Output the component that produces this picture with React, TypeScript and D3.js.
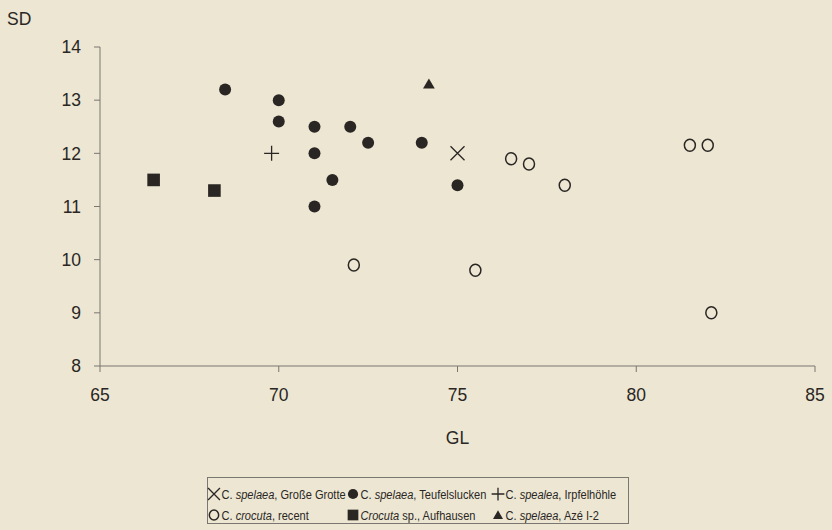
import React from "react";
import * as d3 from "d3";

type Pt = { gl: number; sd: number };

// GL / SD measurements per sample group
const grosseGrotte: Pt[] = [{ gl: 75.0, sd: 12.0 }];
const teufelslucken: Pt[] = [
  { gl: 68.5, sd: 13.2 },
  { gl: 70.0, sd: 13.0 },
  { gl: 70.0, sd: 12.6 },
  { gl: 71.0, sd: 12.5 },
  { gl: 72.0, sd: 12.5 },
  { gl: 72.5, sd: 12.2 },
  { gl: 74.0, sd: 12.2 },
  { gl: 71.0, sd: 12.0 },
  { gl: 71.5, sd: 11.5 },
  { gl: 71.0, sd: 11.0 },
  { gl: 75.0, sd: 11.4 },
];
const irpfelhoehle: Pt[] = [{ gl: 69.8, sd: 12.0 }];
const crocutaRecent: Pt[] = [
  { gl: 72.1, sd: 9.9 },
  { gl: 75.5, sd: 9.8 },
  { gl: 76.5, sd: 11.9 },
  { gl: 77.0, sd: 11.8 },
  { gl: 78.0, sd: 11.4 },
  { gl: 81.5, sd: 12.15 },
  { gl: 82.0, sd: 12.15 },
  { gl: 82.1, sd: 9.0 },
];
const aufhausen: Pt[] = [
  { gl: 66.5, sd: 11.5 },
  { gl: 68.2, sd: 11.3 },
];
const azeI2: Pt[] = [{ gl: 74.2, sd: 13.3 }];

const xTicks = [65, 70, 75, 80, 85];
const yTicks = [8, 9, 10, 11, 12, 13, 14];

const W = 832;
const H = 530;
const BG = "#ece6d3";
const INK = "#2a2623";
const AXIS = "#7a7670";
const FONT = "Arial, 'Liberation Sans', sans-serif";

const x = d3.scaleLinear().domain([65, 85]).range([100, 815]);
const y = d3.scaleLinear().domain([8, 14]).range([366, 47]);

// marker drawers, centred on 0,0 (s = scale)
const marker = (kind: string, s = 1) => {
  switch (kind) {
    case "x":
      return <path d={`M${-7 * s},${-7 * s}L${7 * s},${7 * s}M${-7 * s},${7 * s}L${7 * s},${-7 * s}`} stroke={INK} strokeWidth={1.3} fill="none" />;
    case "dot":
      return <circle r={6 * s} fill={INK} />;
    case "plus":
      return <path d={`M${-7.5 * s},0H${7.5 * s}M0,${-7.5 * s}V${7.5 * s}`} stroke={INK} strokeWidth={1.3} fill="none" />;
    case "ring":
      return <ellipse rx={5.5 * s} ry={6 * s} fill="none" stroke={INK} strokeWidth={1.5} />;
    case "square":
      return <rect x={-6.3 * s} y={-6.3 * s} width={12.6 * s} height={12.6 * s} fill={INK} />;
    case "tri":
      return <path d={d3.symbol(d3.symbolTriangle, 60 * s * s)() || ""} fill={INK} transform="translate(0,1)" />;
  }
  return null;
};

const series = [
  { kind: "x", data: grosseGrotte },
  { kind: "dot", data: teufelslucken },
  { kind: "plus", data: irpfelhoehle },
  { kind: "ring", data: crocutaRecent },
  { kind: "square", data: aufhausen },
  { kind: "tri", data: azeI2 },
];

// legend entries: text pieces, true = italic
const legendItems: { kind: string; parts: [string, boolean][] }[] = [
  { kind: "x", parts: [["C. ", false], ["spelaea", true], [", Große Grotte", false]] },
  { kind: "dot", parts: [["C. ", false], ["spelaea", true], [", Teufelslucken", false]] },
  { kind: "plus", parts: [["C. ", false], ["spealea", true], [", Irpfelhöhle", false]] },
  { kind: "ring", parts: [["C. ", false], ["crocuta", true], [", recent", false]] },
  { kind: "square", parts: [["Crocuta", true], [" sp., Aufhausen", false]] },
  { kind: "tri", parts: [["C. ", false], ["spelaea", true], [", Azé I-2", false]] },
];
const legendCols = [214, 353, 498];
const legendRows = [494, 515];

export default function App() {
  const [x0, x1] = x.range();
  const [y0, y1] = y.range();
  return (
    <svg
      width={W}
      height={H}
      style={{ position: "absolute", left: 0, top: 0, background: BG }}
      fontFamily={FONT}
    >
      <rect width={W} height={H} fill={BG} />

      {/* axes */}
      <line x1={x0} x2={x0} y1={y1} y2={y0} stroke={AXIS} strokeWidth={1} />
      <line x1={x0} x2={x1} y1={y0} y2={y0} stroke={AXIS} strokeWidth={1} />
      {yTicks.map((t) => (
        <g key={"y" + t}>
          <line x1={x0 - 6} x2={x0} y1={y(t)} y2={y(t)} stroke={AXIS} />
          <text x={x0 - 19} y={y(t)} dy="0.36em" textAnchor="end" fontSize={17.5} fill={INK}>
            {t}
          </text>
        </g>
      ))}
      {xTicks.map((t) => (
        <g key={"x" + t}>
          <line x1={x(t)} x2={x(t)} y1={y0} y2={y0 + 6} stroke={AXIS} />
          <text x={x(t)} y={y0 + 29} dy="0.36em" textAnchor="middle" fontSize={17.5} fill={INK}>
            {t}
          </text>
        </g>
      ))}
      <text x={7} y={25} fontSize={17.5} fill={INK}>SD</text>
      <text x={(x0 + x1) / 2} y={444} textAnchor="middle" fontSize={17.5} fill={INK}>GL</text>

      {/* points */}
      {series.map((s, i) => (
        <g key={i}>
          {s.data.map((d, j) => (
            <g key={j} transform={`translate(${x(d.gl)},${y(d.sd)})`}>
              {marker(s.kind)}
            </g>
          ))}
        </g>
      ))}

      {/* legend */}
      <rect x={207.5} y={477.5} width={421} height={46} fill="none" stroke={AXIS} strokeWidth={1} />
      {legendItems.map((it, i) => {
        const cx = legendCols[i % 3];
        const cy = legendRows[Math.floor(i / 3)];
        return (
          <g key={i}>
            <g transform={`translate(${cx},${cy})`}>{marker(it.kind, 0.85)}</g>
            <text
              transform={`translate(${cx + 7.5},${cy}) scale(0.82,1)`}
              dy="0.36em"
              fontSize={13.5}
              fill={INK}
            >
              {it.parts.map(([s, ital], k) => (
                <tspan key={k} fontStyle={ital ? "italic" : "normal"}>
                  {s}
                </tspan>
              ))}
            </text>
          </g>
        );
      })}
    </svg>
  );
}
